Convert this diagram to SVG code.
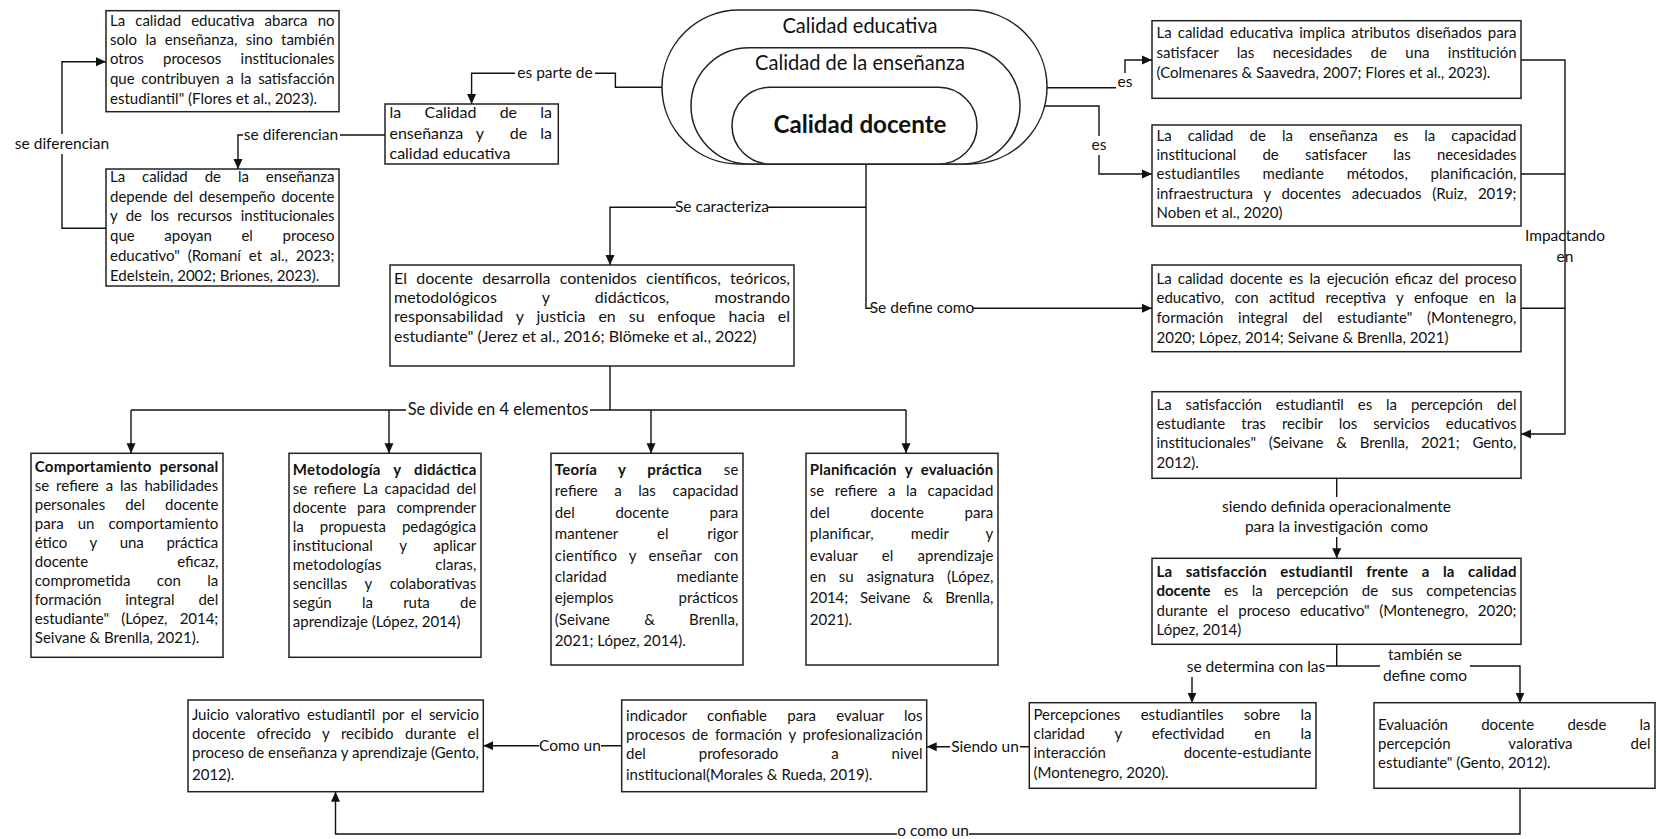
<svg xmlns="http://www.w3.org/2000/svg" width="1657" height="839" viewBox="0 0 1657 839">
<style>
.b{fill:#fff;stroke:#222;stroke-width:1.5}
.s{fill:#fff;stroke:#222;stroke-width:1.5}
text{font-family:Lato,"Liberation Sans",sans-serif;font-size:15px;fill:#111}
.l{font-size:15.5px}
.bd{font-weight:bold}
.c{fill:none;stroke:#111;stroke-width:1.4}
.bg{fill:#fff}
.m{text-anchor:middle}
</style>
<defs>
<marker id="ah" viewBox="0 0 10 10" refX="10" refY="5" markerWidth="10" markerHeight="10" markerUnits="userSpaceOnUse" orient="auto"><path d="M0,0.5 L10,5 L0,9.5 z" fill="#111"/></marker>
</defs>

<g id="connectors">
<path class="c" d="M106,228.3 H62 V61.7 H106" marker-end="url(#ah)"/>
<path class="c" d="M385,135 H238 V169" marker-end="url(#ah)"/>
<path class="c" d="M662,87.3 H615.4 V73.3 H471.6 V104" marker-end="url(#ah)"/>
<path class="c" d="M866,164 V207.3 H610 V265" marker-end="url(#ah)"/>
<path class="c" d="M866,207.3 V308.3 H1152" marker-end="url(#ah)"/>
<path class="c" d="M1047,87.7 H1125 V60 H1152" marker-end="url(#ah)"/>
<path class="c" d="M1020,106 H1099 V174 H1152" marker-end="url(#ah)"/>
<path class="c" d="M1521,60 H1565 V434 H1521" marker-end="url(#ah)"/>
<path class="c" d="M1521,174 H1565 M1521,308.3 H1565"/>
<path class="c" d="M1336.7,478.3 V558.3" marker-end="url(#ah)"/>
<path class="c" d="M1336.7,644.3 V666 H1192 V702.7" marker-end="url(#ah)"/>
<path class="c" d="M1336.7,666 H1520 V702.7" marker-end="url(#ah)"/>
<path class="c" d="M1029.3,746.7 H926.7" marker-end="url(#ah)"/>
<path class="c" d="M621.7,745.7 H483.3" marker-end="url(#ah)"/>
<path class="c" d="M1520,788.3 V834 H335.5 V791.7" marker-end="url(#ah)"/>
<path class="c" d="M610,366 V410 M131,410 H906"/>
<path class="c" d="M131,410 V453.3" marker-end="url(#ah)"/>
<path class="c" d="M389,410 V453.3" marker-end="url(#ah)"/>
<path class="c" d="M651,410 V453.3" marker-end="url(#ah)"/>
<path class="c" d="M906,410 V453.3" marker-end="url(#ah)"/>

<rect class="bg" x="16" y="134" width="92" height="20"/>
<text class="m l" x="62" y="149">se diferencian</text>
<rect class="bg" x="243" y="126" width="97" height="19"/>
<text class="m l" x="291" y="140">se diferencian</text>
<rect class="bg" x="515" y="64" width="80" height="19"/>
<text class="m l" x="555" y="78.3">es parte de</text>
<rect class="bg" x="676" y="198" width="92" height="19"/>
<text class="m l" x="722" y="212.3">Se caracteriza</text>
<rect class="bg" x="872" y="299" width="100" height="19"/>
<text class="m l" x="922" y="313.3">Se define como</text>
<rect class="bg" x="1116" y="73" width="18" height="18"/>
<text class="m l" x="1125" y="86.7">es</text>
<rect class="bg" x="1090" y="136" width="18" height="19"/>
<text class="m l" x="1099" y="150">es</text>
<text class="m l" x="1565" y="240.7">Impactando</text>
<text class="m l" x="1565" y="262.3">en</text>
<rect class="bg" x="1220" y="497" width="233" height="40"/>
<text class="m l" x="1336.5" y="511.7">siendo definida operacionalmente</text>
<text class="m l" x="1336.5" y="531.7" xml:space="preserve">para la investigación  como</text>
<rect class="bg" x="1188" y="657" width="138" height="20"/>
<text class="m l" x="1256" y="671.7">se determina con las</text>
<rect class="bg" x="1380" y="645" width="90" height="42"/>
<text class="m l" x="1425" y="660">también se</text>
<text class="m l" x="1425" y="681">define como</text>
<rect class="bg" x="950" y="737" width="70" height="19"/>
<text class="m l" x="985" y="751.7">Siendo un</text>
<rect class="bg" x="539" y="736" width="62" height="19"/>
<text class="m l" x="570" y="750.7">Como un</text>
<rect class="bg" x="897" y="825" width="72" height="14"/>
<text class="m l" x="933" y="835.5">o como un</text>
<rect class="bg" x="406" y="400" width="184" height="20"/>
<text class="m" x="498" y="415" style="font-size:16.5px">Se divide en 4 elementos</text>
</g>

<g id="n0">
<rect class="s" x="662" y="10" width="385" height="154" rx="77" ry="77"/>
<rect class="s" x="691" y="47.7" width="329" height="116.3" rx="58.15" ry="58.15"/>
<rect class="s" x="732" y="87.3" width="245" height="76.7" rx="38.35" ry="38.35"/>
<text class="m" x="860" y="33.3" style="font-size:20.5px" textLength="155" lengthAdjust="spacingAndGlyphs">Calidad educativa</text>
<text class="m" x="860" y="70" style="font-size:20.5px" textLength="210" lengthAdjust="spacingAndGlyphs">Calidad de la enseñanza</text>
<text class="m bd" x="860" y="133.3" style="font-size:25px" textLength="173" lengthAdjust="spacingAndGlyphs">Calidad docente</text>
</g>

<g id="n1">
<rect class="b" x="106" y="10.7" width="233" height="101"/>
<text x="110" y="25.7" textLength="224.5" lengthAdjust="spacing" word-spacing="6.4">La calidad educativa abarca no</text>
<text x="110" y="45" textLength="224.5" lengthAdjust="spacing" word-spacing="4.5">solo la enseñanza, sino también</text>
<text x="110" y="64.3" textLength="224.5" lengthAdjust="spacing" word-spacing="15.6">otros procesos institucionales</text>
<text x="110" y="84" textLength="224.5" lengthAdjust="spacing" word-spacing="3">que contribuyen a la satisfacción</text>
<text x="110" y="104.3">estudiantil" (Flores et al., 2023).</text>
</g>

<g id="n2">
<rect class="b" x="106" y="169" width="233" height="117"/>
<text x="110" y="181.7" textLength="224.5" lengthAdjust="spacing" word-spacing="13.2">La calidad de la enseñanza</text>
<text x="110" y="201.7" textLength="224.5" lengthAdjust="spacing" word-spacing="2.1">depende del desempeño docente</text>
<text x="110" y="221" textLength="224.5" lengthAdjust="spacing" word-spacing="4.7">y de los recursos institucionales</text>
<text x="110" y="240.7" textLength="224.5" lengthAdjust="spacing" word-spacing="25.9">que apoyan el proceso</text>
<text x="110" y="260.7" textLength="224.5" lengthAdjust="spacing" word-spacing="4">educativo" (Romaní et al., 2023;</text>
<text x="110" y="281">Edelstein, 2002; Briones, 2023).</text>
</g>

<g id="n3">
<rect class="b" x="385" y="104" width="173.3" height="60"/>
<text x="389.5" y="118.3" style="font-size:16px" textLength="162.5" lengthAdjust="spacing" word-spacing="19.3">la Calidad de la</text>
<text x="389.5" y="139" style="font-size:16px" textLength="162.5" lengthAdjust="spacing" word-spacing="9" xml:space="preserve">enseñanza y  de la</text>
<text x="389.5" y="159.3" style="font-size:16px">calidad educativa</text>
</g>

<g id="n4">
<rect class="b" x="390" y="265" width="404" height="101"/>
<text x="394" y="284.3" style="font-size:16px" textLength="396" lengthAdjust="spacing" word-spacing="5.2">El docente desarrolla contenidos científicos, teóricos,</text>
<text x="394" y="303.3" style="font-size:16px" textLength="396" lengthAdjust="spacing" word-spacing="41.2">metodológicos y didácticos, mostrando</text>
<text x="394" y="321.7" style="font-size:16px" textLength="396" lengthAdjust="spacing" word-spacing="8.8">responsabilidad y justicia en su enfoque hacia el</text>
<text x="394" y="342.3" style="font-size:16px">estudiante" (Jerez et al., 2016; Blömeke et al., 2022)</text>
</g>

<g id="n5">
<rect class="b" x="1152" y="20.7" width="369" height="77.6"/>
<text x="1156.5" y="38.3" textLength="360" lengthAdjust="spacing" word-spacing="2.3">La calidad educativa implica atributos diseñados para</text>
<text x="1156.5" y="58.3" textLength="360" lengthAdjust="spacing" word-spacing="14.7">satisfacer las necesidades de una institución</text>
<text x="1156.5" y="77.7">(Colmenares &amp; Saavedra, 2007; Flores et al., 2023).</text>
</g>

<g id="n6">
<rect class="b" x="1152" y="125" width="369" height="101"/>
<text x="1156.5" y="141" textLength="360" lengthAdjust="spacing" word-spacing="12.3">La calidad de la enseñanza es la capacidad</text>
<text x="1156.5" y="160" textLength="360" lengthAdjust="spacing" word-spacing="22.5">institucional de satisfacer las necesidades</text>
<text x="1156.5" y="179" textLength="360" lengthAdjust="spacing" word-spacing="18.8">estudiantiles mediante métodos, planificación,</text>
<text x="1156.5" y="199.3" textLength="360" lengthAdjust="spacing" word-spacing="7">infraestructura y docentes adecuados (Ruiz, 2019;</text>
<text x="1156.5" y="218.3">Noben et al., 2020)</text>
</g>

<g id="n7">
<rect class="b" x="1152" y="265" width="369" height="86.7"/>
<text x="1156.5" y="284.3" textLength="360" lengthAdjust="spacing" word-spacing="2.5">La calidad docente es la ejecución eficaz del proceso</text>
<text x="1156.5" y="303.3" textLength="360" lengthAdjust="spacing" word-spacing="6.8">educativo, con actitud receptiva y enfoque en la</text>
<text x="1156.5" y="322.7" textLength="360" lengthAdjust="spacing" word-spacing="10.7">formación integral del estudiante" (Montenegro,</text>
<text x="1156.5" y="342.7">2020; López, 2014; Seivane &amp; Brenlla, 2021)</text>
</g>

<g id="n8">
<rect class="b" x="1152" y="391.7" width="369" height="86.6"/>
<text x="1156.5" y="410" textLength="360" lengthAdjust="spacing" word-spacing="10.2">La satisfacción estudiantil es la percepción del</text>
<text x="1156.5" y="429" textLength="360" lengthAdjust="spacing" word-spacing="12.3">estudiante tras recibir los servicios educativos</text>
<text x="1156.5" y="448.3" textLength="360" lengthAdjust="spacing" word-spacing="9">institucionales" (Seivane &amp; Brenlla, 2021; Gento,</text>
<text x="1156.5" y="468.3">2012).</text>
</g>

<g id="n9">
<rect class="b" x="1152" y="558.3" width="369" height="86"/>
<text class="bd" x="1156.5" y="576.7" textLength="360" lengthAdjust="spacing" word-spacing="9.5">La satisfacción estudiantil frente a la calidad</text>
<text x="1156.5" y="596" textLength="360" lengthAdjust="spacing" word-spacing="9.7"><tspan class="bd">docente</tspan> es la percepción de sus competencias</text>
<text x="1156.5" y="615.7" textLength="360" lengthAdjust="spacing" word-spacing="5.8">durante el proceso educativo" (Montenegro, 2020;</text>
<text x="1156.5" y="635">López, 2014)</text>
</g>

<g id="n10">
<rect class="b" x="1029.3" y="702.7" width="286.7" height="85.6"/>
<text x="1033.5" y="720" textLength="278" lengthAdjust="spacing" word-spacing="16.6">Percepciones estudiantiles sobre la</text>
<text x="1033.5" y="739.3" textLength="278" lengthAdjust="spacing" word-spacing="26.2">claridad y efectividad en la</text>
<text x="1033.5" y="758.3" textLength="278" lengthAdjust="spacing" word-spacing="74">interacción docente-estudiante</text>
<text x="1033.5" y="778.3">(Montenegro, 2020).</text>
</g>

<g id="n11">
<rect class="b" x="1374" y="702.7" width="281" height="85.6"/>
<text x="1378" y="730" textLength="272.5" lengthAdjust="spacing" word-spacing="29.4">Evaluación docente desde la</text>
<text x="1378" y="749" textLength="272.5" lengthAdjust="spacing" word-spacing="54.2">percepción valorativa del</text>
<text x="1378" y="768.3">estudiante" (Gento, 2012).</text>
</g>

<g id="n12">
<rect class="b" x="188" y="700" width="295.3" height="91.7"/>
<text x="192" y="720" textLength="287" lengthAdjust="spacing" word-spacing="3.1">Juicio valorativo estudiantil por el servicio</text>
<text x="192" y="739" textLength="287" lengthAdjust="spacing" word-spacing="7.6">docente ofrecido y recibido durante el</text>
<text x="192" y="758.3" textLength="287" lengthAdjust="spacing">proceso de enseñanza y aprendizaje (Gento,</text>
<text x="192" y="780">2012).</text>
</g>

<g id="n13">
<rect class="b" x="621.7" y="700" width="305" height="91.7"/>
<text x="626" y="720.7" textLength="296.5" lengthAdjust="spacing" word-spacing="16.3">indicador confiable para evaluar los</text>
<text x="626" y="740" textLength="296.5" lengthAdjust="spacing" word-spacing="2.6">procesos de formación y profesionalización</text>
<text x="626" y="759.3" textLength="296.5" lengthAdjust="spacing" word-spacing="49">del profesorado a nivel</text>
<text x="626" y="780">institucional(Morales &amp; Rueda, 2019).</text>
</g>

<g id="n14">
<rect class="b" x="31" y="453.3" width="192" height="204"/>
<text class="bd" x="34.8" y="472.3" textLength="183.5" lengthAdjust="spacing" word-spacing="4">Comportamiento personal</text>
<text x="34.8" y="491.3" textLength="183.5" lengthAdjust="spacing" word-spacing="3">se refiere a las habilidades</text>
<text x="34.8" y="510.3" textLength="183.5" lengthAdjust="spacing" word-spacing="16.2">personales del docente</text>
<text x="34.8" y="529.3" textLength="183.5" lengthAdjust="spacing" word-spacing="10">para un comportamiento</text>
<text x="34.8" y="548.3" textLength="183.5" lengthAdjust="spacing" word-spacing="19">ético y una práctica</text>
<text x="34.8" y="567.3" textLength="183.5" lengthAdjust="spacing" word-spacing="85.3">docente eficaz,</text>
<text x="34.8" y="586.3" textLength="183.5" lengthAdjust="spacing" word-spacing="22.5">comprometida con la</text>
<text x="34.8" y="605.3" textLength="183.5" lengthAdjust="spacing" word-spacing="19.9">formación integral del</text>
<text x="34.8" y="624.3" textLength="183.5" lengthAdjust="spacing" word-spacing="8.5">estudiante" (López, 2014;</text>
<text x="34.8" y="643.3">Seivane &amp; Brenlla, 2021).</text>
</g>

<g id="n15">
<rect class="b" x="289" y="453.3" width="192" height="204"/>
<text class="bd" x="292.8" y="475" textLength="183.5" lengthAdjust="spacing" word-spacing="9">Metodología y didáctica</text>
<text x="292.8" y="494" textLength="183.5" lengthAdjust="spacing" word-spacing="2.8">se refiere La capacidad del</text>
<text x="292.8" y="513" textLength="183.5" lengthAdjust="spacing" word-spacing="6.7">docente para comprender</text>
<text x="292.8" y="532" textLength="183.5" lengthAdjust="spacing" word-spacing="12.2">la propuesta pedagógica</text>
<text x="292.8" y="551" textLength="183.5" lengthAdjust="spacing" word-spacing="23">institucional y aplicar</text>
<text x="292.8" y="570" textLength="183.5" lengthAdjust="spacing" word-spacing="49.7">metodologías claras,</text>
<text x="292.8" y="589" textLength="183.5" lengthAdjust="spacing" word-spacing="14">sencillas y colaborativas</text>
<text x="292.8" y="608" textLength="183.5" lengthAdjust="spacing" word-spacing="26.5">según la ruta de</text>
<text x="292.8" y="627">aprendizaje (López, 2014)</text>
</g>

<g id="n16">
<rect class="b" x="551" y="453.3" width="192" height="211.7"/>
<text x="554.8" y="475" textLength="183.5" lengthAdjust="spacing" word-spacing="17.5"><tspan class="bd">Teoría y práctica</tspan> se</text>
<text x="554.8" y="496.4" textLength="183.5" lengthAdjust="spacing" word-spacing="12.7">refiere a las capacidad</text>
<text x="554.8" y="517.8" textLength="183.5" lengthAdjust="spacing" word-spacing="36.8">del docente para</text>
<text x="554.8" y="539.2" textLength="183.5" lengthAdjust="spacing" word-spacing="34.9">mantener el rigor</text>
<text x="554.8" y="560.6" textLength="183.5" lengthAdjust="spacing" word-spacing="7.9">científico y enseñar con</text>
<text x="554.8" y="582" textLength="183.5" lengthAdjust="spacing" word-spacing="65.9">claridad mediante</text>
<text x="554.8" y="603.4" textLength="183.5" lengthAdjust="spacing" word-spacing="61.2">ejemplos prácticos</text>
<text x="554.8" y="624.8" textLength="183.5" lengthAdjust="spacing" word-spacing="30.3">(Seivane &amp; Brenlla,</text>
<text x="554.8" y="646.2">2021; López, 2014).</text>
</g>

<g id="n17">
<rect class="b" x="806" y="453.3" width="192" height="211.7"/>
<text class="bd" x="809.8" y="475" textLength="183.5" lengthAdjust="spacing" word-spacing="4.5">Planificación y evaluación</text>
<text x="809.8" y="496.4" textLength="183.5" lengthAdjust="spacing" word-spacing="6.6">se refiere a la capacidad</text>
<text x="809.8" y="517.8" textLength="183.5" lengthAdjust="spacing" word-spacing="36.8">del docente para</text>
<text x="809.8" y="539.2" textLength="183.5" lengthAdjust="spacing" word-spacing="33.2">planificar, medir y</text>
<text x="809.8" y="560.6" textLength="183.5" lengthAdjust="spacing" word-spacing="20.1">evaluar el aprendizaje</text>
<text x="809.8" y="582" textLength="183.5" lengthAdjust="spacing" word-spacing="8.9">en su asignatura (López,</text>
<text x="809.8" y="603.4" textLength="183.5" lengthAdjust="spacing" word-spacing="8.4">2014; Seivane &amp; Brenlla,</text>
<text x="809.8" y="624.8">2021).</text>
</g>
</svg>
